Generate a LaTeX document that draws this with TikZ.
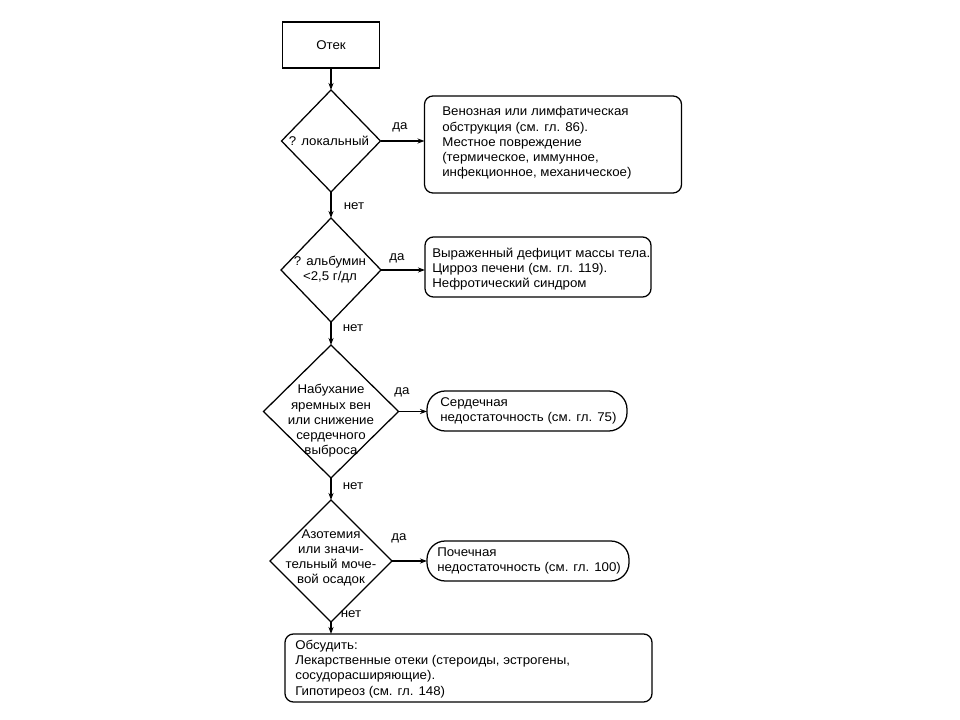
\documentclass[tikz,border=0pt]{standalone}
\usepackage{fontspec}
\setmainfont{Liberation Sans}[FakeStretch=1.05]
\usetikzlibrary{shapes.geometric,arrows.meta}
\newcommand\bodyfont{\fontsize{9}{10.8}\selectfont}
\begin{document}
\begin{tikzpicture}[x=0.025cm,y=-0.025cm,
  frame/.style={draw, line width=0.9pt, inner sep=0pt, outer sep=0pt},
  sqbox/.style={frame, rectangle},
  rbox/.style={frame, rectangle, rounded corners=6pt},
  pill/.style={frame, rectangle, rounded corners=13pt},
  dia/.style={frame, diamond},
  txt/.style={inner sep=0pt, align=left, anchor=west, font=\bodyfont},
  ctxt/.style={inner sep=0pt, align=center, font=\bodyfont},
  lab/.style={inner sep=0pt, font=\bodyfont},
  arr/.style={line width=0.8pt, -{Stealth[length=5pt,width=3.6pt]}},
]
\useasboundingbox (0,0) rectangle (960,720);

% shapes
\node[sqbox, minimum width=97*0.025cm, minimum height=46*0.025cm] (b0) at (331,45) {};
\node[dia, minimum width=99*0.025cm, minimum height=102*0.025cm] (d1) at (331,141) {};
\node[rbox, minimum width=257*0.025cm, minimum height=97*0.025cm] (b1) at (553,144.5) {};
\node[dia, minimum width=100*0.025cm, minimum height=104*0.025cm] (d2) at (331,270) {};
\node[rbox, minimum width=226*0.025cm, minimum height=60*0.025cm] (b2) at (538,267) {};
\node[dia, minimum width=135*0.025cm, minimum height=133*0.025cm] (d3) at (331,411.5) {};
\node[pill, minimum width=200*0.025cm, minimum height=40*0.025cm] (b3) at (527,411) {};
\node[dia, minimum width=122*0.025cm, minimum height=122*0.025cm] (d4) at (331,561) {};
\node[pill, minimum width=202*0.025cm, minimum height=40*0.025cm] (b4) at (528,561) {};
\node[rbox, minimum width=367*0.025cm, minimum height=68*0.025cm] (b5) at (468.5,668) {};

% texts
\node[ctxt] (t0) at (b0.center) {Отек};
\node[ctxt] (td1) at (329,141) {? локальный};
\node[txt] (tb1) at (442,143) {Венозная или лимфатическая\\обструкция (см. гл. 86).\\Местное повреждение\\(термическое, иммунное,\\инфекционное, механическое)};
\node[ctxt] (td2) at (330,270) {? альбумин\\<2,5 г/дл};
\node[txt] (tb2) at (432,269) {Выраженный дефицит массы тела.\\Цирроз печени (см. гл. 119).\\Нефротический синдром};
\node[ctxt] (td3) at (331,421) {Набухание\\яремных вен\\или снижение\\сердечного\\выброса};
\node[txt] (tb3) at (440,411) {Сердечная\\недостаточность (см. гл. 75)};
\node[ctxt] (td4) at (331,558) {Азотемия\\или значи-\\тельный моче-\\вой осадок};
\node[txt] (tb4) at (437,561) {Почечная\\недостаточность (см. гл. 100)};
\node[txt] (tb5) at (295,669) {Обсудить:\\Лекарственные отеки (стероиды, эстрогены,\\сосудорасширяющие).\\Гипотиреоз (см. гл. 148)};

% labels
\node[lab] (y1) at (400,127) {да};
\node[lab] (y2) at (397,258) {да};
\node[lab] (y3) at (402,392) {да};
\node[lab] (y4) at (399,538) {да};
\node[lab] (n1) at (354,206) {нет};
\node[lab] (n2) at (353,328) {нет};
\node[lab] (n3) at (353,486) {нет};
\node[lab] (n4) at (351,614) {нет};

% connectors
\draw[arr] (b0) -- (d1);
\draw[arr] (d1) -- (d2);
\draw[arr] (d2) -- (d3);
\draw[arr] (d3) -- (d4);
\draw[arr] (d4.south) -- (d4.south |- b5.north);
\draw[arr] (d1.east) -- (d1.east -| b1.west);
\draw[arr] (d2.east) -- (d2.east -| b2.west);
\draw[arr] (d3.east) -- (d3.east -| b3.west);
\draw[arr] (d4.east) -- (d4.east -| b4.west);
\end{tikzpicture}
\end{document}
